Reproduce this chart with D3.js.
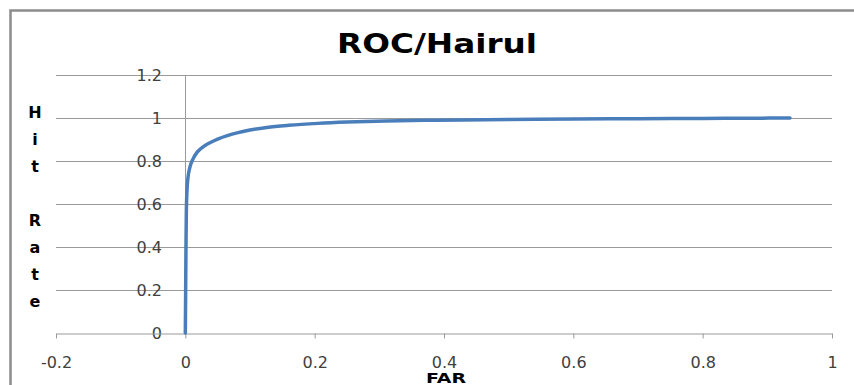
<!DOCTYPE html>
<html><head><meta charset="utf-8">
<script src="https://cdn.jsdelivr.net/npm/d3@7"></script>
<style>html,body{margin:0;padding:0;background:#fff;}svg{display:block;}</style>
</head><body>
<svg id="c" width="854" height="385"></svg>
<script>
const title = "ROC/Hairul";
const xTitle = "FAR";
const yTitleLetters = ["H","i","t","","R","a","t","e"];
const xTicks = [-0.2, 0, 0.2, 0.4, 0.6, 0.8, 1];
const yTicks = [0, 0.2, 0.4, 0.6, 0.8, 1, 1.2];
const far = [0, 0.0005, 0.001, 0.0015, 0.0025, 0.004, 0.007, 0.012, 0.018, 0.027, 0.038, 0.05, 0.065, 0.08, 0.1, 0.126, 0.16, 0.205, 0.25, 0.31, 0.37, 0.43, 0.5, 0.6, 0.7, 0.8, 0.87, 0.935];
const hit = [0, 0.2, 0.4, 0.55, 0.66, 0.72, 0.77, 0.81, 0.84, 0.865, 0.885, 0.902, 0.918, 0.931, 0.944, 0.956, 0.966, 0.975, 0.981, 0.986, 0.989, 0.991, 0.993, 0.995, 0.997, 0.998, 0.999, 1.0];

const fmt = d => String(+d.toFixed(2));
const FONT = "'DejaVu Sans', sans-serif";

const svg = d3.select("#c");
const x = d3.scaleLinear().domain([-0.2, 1]).range([56, 832]);
const y = d3.scaleLinear().domain([0, 1.2]).range([333, 75]);

// frame
svg.append("path").attr("d","M10.5,385 L10.5,10.5 L860,10.5")
  .attr("fill","none").attr("stroke","#8c8c8c").attr("stroke-width",2.5);

// gridlines
svg.append("g").selectAll("line").data(yTicks.filter(d=>d>0)).join("line")
  .attr("x1", x(-0.2)).attr("x2", x(1))
  .attr("y1", d=>Math.round(y(d))+0.5).attr("y2", d=>Math.round(y(d))+0.5)
  .attr("stroke","#9a9a9a").attr("stroke-width",1);

// y tick labels
svg.append("g").selectAll("text").data(yTicks).join("text")
  .attr("x", 162).attr("y", d=>y(d)).attr("dy","0.36em")
  .attr("text-anchor","end")
  .style("font-family",FONT).style("font-size","16px").attr("fill","#404040")
  .text(fmt);

// x axis
const xAxis = d3.axisBottom(x).tickValues(xTicks).tickSize(5).tickSizeOuter(0).tickFormat(fmt);
const gx = svg.append("g").attr("transform",`translate(0,${Math.round(y(0))+0.5})`).call(xAxis);
gx.select(".domain").attr("stroke","#9a9a9a");
gx.selectAll(".tick line").attr("stroke","#9a9a9a");
gx.selectAll(".tick text").attr("y", 34).attr("dy", 0).attr("fill","#404040")
  .style("font-family",FONT).style("font-size","16px");

// y axis at x=0
svg.append("line").attr("x1", Math.round(x(0))+0.5).attr("x2", Math.round(x(0))+0.5)
  .attr("y1", y(1.2)).attr("y2", y(0)).attr("stroke","#9a9a9a");

// curve
const pts = far.map((f,i)=>[f, hit[i]]);
svg.append("path").datum(pts)
  .attr("d", d3.line().x(d=>x(d[0])).y(d=>y(d[1])).curve(d3.curveMonotoneX))
  .attr("fill","none").attr("stroke","#4a7ebb").attr("stroke-width",3.5).attr("stroke-linecap","round");

// title
svg.append("text").attr("x", 437).attr("y", 53).attr("text-anchor","middle")
  .attr("textLength", 200).attr("lengthAdjust","spacingAndGlyphs")
  .style("font-family",FONT).style("font-weight","bold").style("font-size","27px")
  .attr("fill","#000").text(title);

// x title
svg.append("text").attr("x", 446).attr("y", 383).attr("text-anchor","middle")
  .attr("textLength", 40).attr("lengthAdjust","spacingAndGlyphs")
  .style("font-family",FONT).style("font-weight","bold").style("font-size","14px")
  .attr("fill","#000").text(xTitle);

// y title stacked
svg.append("g").selectAll("text").data(yTitleLetters).join("text")
  .attr("x", 35).attr("y", (d,i)=>112 + i*27).attr("dy","0.36em").attr("text-anchor","middle")
  .style("font-family",FONT).style("font-weight","bold").style("font-size","16px")
  .attr("fill","#000").text(d=>d);
</script>
</body></html>
